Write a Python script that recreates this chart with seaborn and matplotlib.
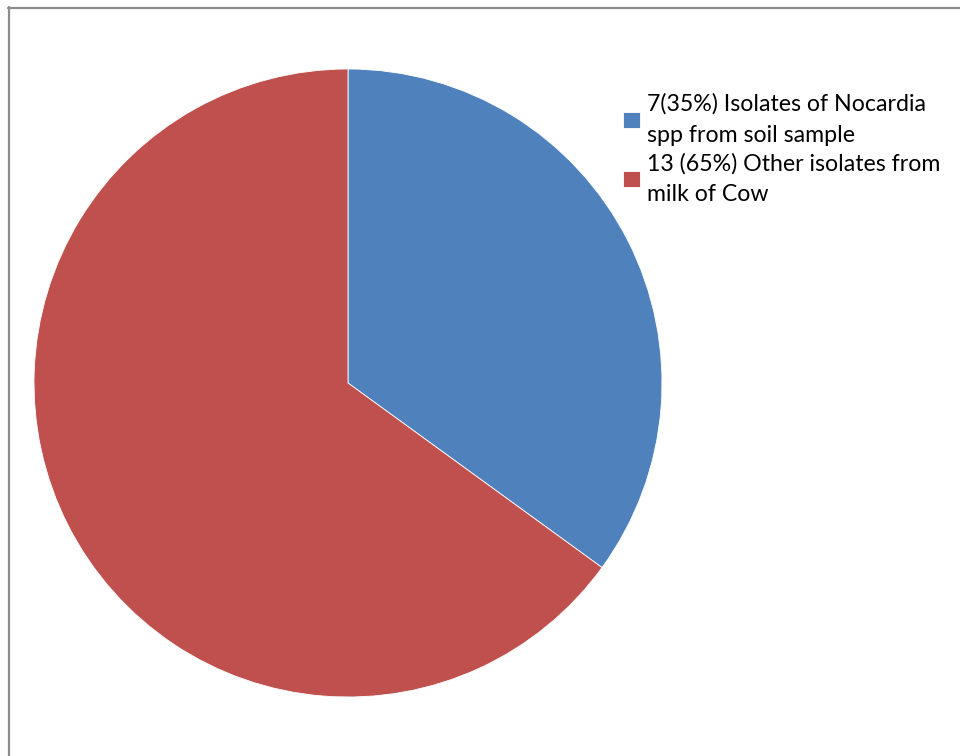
import matplotlib
matplotlib.use("Agg")
import matplotlib.pyplot as plt
import seaborn as sns
from matplotlib.lines import Line2D

sns.set_theme(style="white")
plt.rcParams['font.family'] = ['Lato', 'DejaVu Sans']

labels = ["7(35%) Isolates of Nocardia\nspp from soil sample",
          "13 (65%) Other isolates from\nmilk of Cow"]
values = [7, 13]
colors = ["#4F81BD", "#C0504D"]

W, H = 960, 756
fig = plt.figure(figsize=(W / 100, H / 100), dpi=100)
fig.patch.set_facecolor("white")

# pie axes: center (348,383), radius 314 px
cx, cy, r = 348, 383, 314
ax = fig.add_axes([(cx - r) / W, (H - cy - r) / H, 2 * r / W, 2 * r / H])
wedges, _ = ax.pie(values, colors=colors, startangle=90, counterclock=False,
                   radius=1, wedgeprops=dict(edgecolor="white", linewidth=0.6))
ax.set_xlim(-1, 1)
ax.set_ylim(-1, 1)
ax.set_aspect("equal")
ax.axis("off")

leg = fig.legend(wedges, labels, loc="upper left",
                 bbox_to_anchor=(614 / W, 1 - 84 / H), frameon=False,
                 fontsize=16.7, handlelength=0.72, handleheight=0.72,
                 handletextpad=0.3, labelspacing=0.3, borderaxespad=0)
for t in leg.get_texts():
    t.set_linespacing(1.58)
    t.set_color("black")

# outer frame
fig.add_artist(Line2D([8.5 / W, 8.5 / W], [0, 1 - 7 / H], transform=fig.transFigure,
                      color="#8c8c8c", lw=1.6))
fig.add_artist(Line2D([8 / W, 1], [1 - 7.5 / H, 1 - 7.5 / H], transform=fig.transFigure,
                      color="#8c8c8c", lw=1.6))

fig.savefig("out.png", dpi=100)
